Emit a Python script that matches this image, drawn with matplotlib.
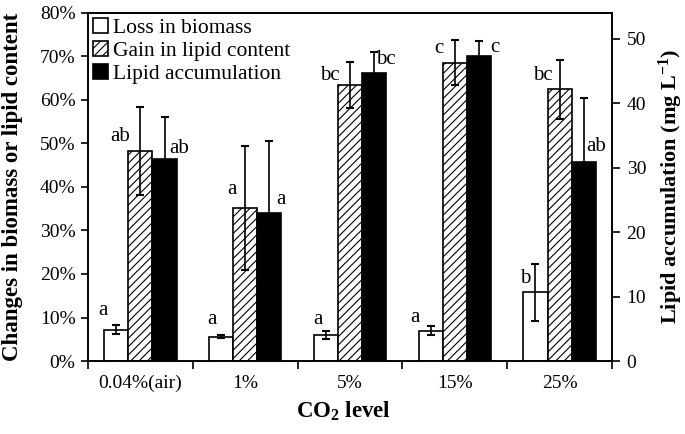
import matplotlib.pyplot as plt
import numpy as np
from matplotlib.ticker import PercentFormatter

plt.rcParams['font.family'] = ['Liberation Serif', 'DejaVu Serif']
plt.rcParams['mathtext.fontset'] = 'custom'
plt.rcParams['mathtext.rm'] = 'Liberation Serif:bold'
plt.rcParams['mathtext.bf'] = 'Liberation Serif:bold'
plt.rcParams['mathtext.default'] = 'bf'
plt.rcParams['hatch.linewidth'] = 0.8

# values
co2_levels = ['0.04%(air)', '1%', '5%', '15%', '25%']
biomass_loss = [7.2, 5.6, 6.0, 7.0, 15.8]          # %
biomass_loss_err = [1.0, 0.3, 0.9, 1.1, 6.6]
lipid_gain = [48.3, 35.2, 63.4, 68.6, 62.5]         # %
lipid_gain_err = [10.1, 14.2, 5.3, 5.1, 6.8]
lipid_accum = [31.3, 23.0, 44.7, 47.3, 30.9]        # mg/L
lipid_accum_err = [6.5, 11.2, 3.2, 2.3, 9.9]
loss_letters = ['a', 'a', 'a', 'a', 'b']
gain_letters = ['ab', 'a', 'bc', 'c', 'bc']
accum_letters = ['ab', 'a', 'bc', 'c', 'ab']

# letter offsets (pixels) from top of each bar
loss_off = [(-13, 19), (-9, 17), (-8, 15), (-16, 13), (-10, 14)]
gain_off = [(-20, 14), (-13, 18), (-20, 10), (-16, 14), (-17, 14)]
accum_off = [(15, 11), (12, 13), (12, 13), (16, 9), (12, 15)]

fig = plt.figure(figsize=(6.85, 4.34), dpi=100)
ax = fig.add_axes([88/685, 73/434, 524/685, 348/434])
ax2 = ax.twinx()

x = np.arange(len(co2_levels))
w = 0.23
ekw = dict(elinewidth=1.2, capthick=1.5, capsize=3, ecolor='black')

b1 = ax.bar(x - w, biomass_loss, w, yerr=biomass_loss_err, color='white',
            edgecolor='black', linewidth=1.2, error_kw=ekw, label='Loss in biomass')
b2 = ax.bar(x, lipid_gain, w, yerr=lipid_gain_err, color='white', hatch='////',
            edgecolor='black', linewidth=1.2, error_kw=ekw, label='Gain in lipid content')
b3 = ax2.bar(x + w, lipid_accum, w, yerr=lipid_accum_err, color='black',
             edgecolor='black', linewidth=1.2, error_kw=ekw, label='Lipid accumulation')

for i in range(len(x)):
    ax.annotate(loss_letters[i], (x[i] - w, biomass_loss[i]), xytext=loss_off[i],
                textcoords='offset pixels', ha='center', va='center', fontsize=15)
    ax.annotate(gain_letters[i], (x[i], lipid_gain[i]), xytext=gain_off[i],
                textcoords='offset pixels', ha='center', va='center', fontsize=15)
    ax2.annotate(accum_letters[i], (x[i] + w, lipid_accum[i]), xytext=accum_off[i],
                 textcoords='offset pixels', ha='center', va='center', fontsize=15)

ax.set_xlim(-0.5, len(x) - 0.5)
ax.set_ylim(0, 80)
ax2.set_ylim(0, 54.0)
ax.set_yticks(np.arange(0, 81, 10))
ax.yaxis.set_major_formatter(PercentFormatter(decimals=0))
ax2.set_yticks(np.arange(0, 51, 10))

ax.set_xticks(np.arange(-0.5, len(x), 1))
ax.set_xticklabels([])
ax.set_xticks(x, minor=True)
ax.set_xticklabels(co2_levels, minor=True)
ax.tick_params(axis='x', which='minor', length=0, pad=10, labelsize=14)
ax.tick_params(axis='x', which='major', length=6, width=1.2, direction='out')
ax.tick_params(axis='y', length=5, width=1.2, labelsize=14, pad=4)
ax2.tick_params(axis='y', length=5.5, width=1.2, labelsize=14, pad=5)

for a in (ax, ax2):
    for s in a.spines.values():
        s.set_linewidth(1.2)

ax.set_xlabel('CO$_2$ level', fontsize=16.5, fontweight='bold')
ax.xaxis.set_label_coords(0.488, -0.112)
ax.set_ylabel('Changes in biomass or lipid content', fontsize=16.5, fontweight='bold')
ax.yaxis.set_label_coords(-0.124, 0.5)
ax2.set_ylabel('Lipid accumulation (mg L$^{-1}$)', fontsize=16, fontweight='bold')
ax2.yaxis.set_label_coords(1.086, 0.5)

ax2.legend([b1, b2, b3], ['Loss in biomass', 'Gain in lipid content', 'Lipid accumulation'],
           loc='upper left', frameon=False, fontsize=15.5, handlelength=0.7, handleheight=0.7,
           handletextpad=0.2, labelspacing=0.12, borderaxespad=0.0, borderpad=0.25)

fig.savefig('out.png', dpi=100)
